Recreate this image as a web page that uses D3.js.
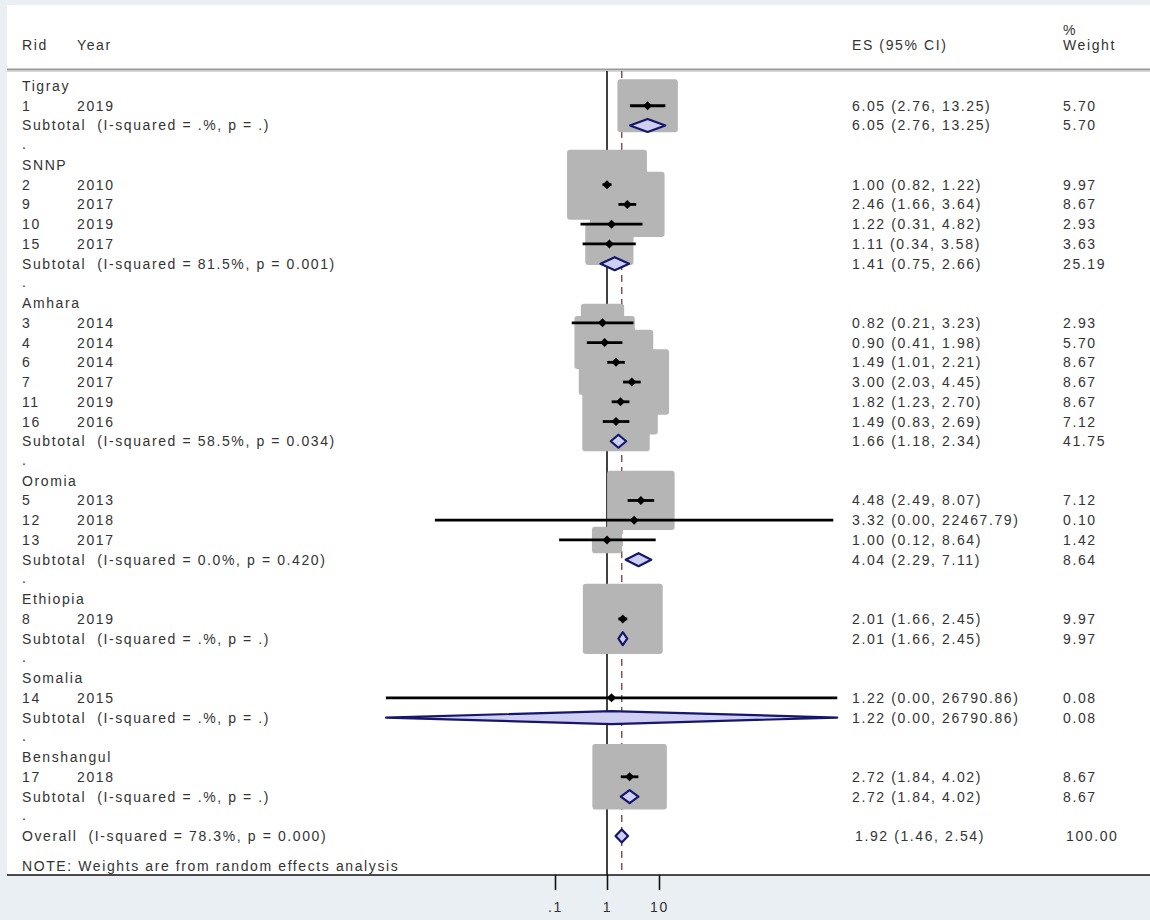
<!DOCTYPE html>
<html>
<head>
<meta charset="utf-8">
<script src="https://cdn.jsdelivr.net/npm/d3@7"></script>
<style>
  html, body { margin: 0; padding: 0; background: #e9eff3; }
  svg { display: block; }
  text { font-family: "Liberation Sans", Arial, sans-serif; font-size: 14px; fill: #333333; letter-spacing: 1.6px; white-space: pre; }
</style>
</head>
<body>
<svg id="chart" width="1150" height="920"></svg>
<script>
// Regions (subgroups) in display order
const regions = ["Tigray", "SNNP", "Amhara", "Oromia", "Ethiopia", "Somalia", "Benshangul"];

// Individual studies
const studyRid    = [1, 2, 9, 10, 15, 3, 4, 6, 7, 11, 16, 5, 12, 13, 8, 14, 17];
const studyYear   = [2019, 2010, 2017, 2019, 2017, 2014, 2014, 2014, 2017, 2019, 2016, 2013, 2018, 2017, 2019, 2015, 2018];
const studyRegion = ["Tigray", "SNNP", "SNNP", "SNNP", "SNNP", "Amhara", "Amhara", "Amhara", "Amhara", "Amhara", "Amhara",
                     "Oromia", "Oromia", "Oromia", "Ethiopia", "Somalia", "Benshangul"];
const studyES     = [6.05, 1.00, 2.46, 1.22, 1.11, 0.82, 0.90, 1.49, 3.00, 1.82, 1.49, 4.48, 3.32, 1.00, 2.01, 1.22, 2.72];
const studyLo     = [2.76, 0.82, 1.66, 0.31, 0.34, 0.21, 0.41, 1.01, 2.03, 1.23, 0.83, 2.49, 0.00049, 0.12, 1.66, 0.000056, 1.84];
const studyHi     = [13.25, 1.22, 3.64, 4.82, 3.58, 3.23, 1.98, 2.21, 4.45, 2.70, 2.69, 8.07, 22467.79, 8.64, 2.45, 26790.86, 4.02];
const studyWeight = [5.70, 9.97, 8.67, 2.93, 3.63, 2.93, 5.70, 8.67, 8.67, 8.67, 7.12, 7.12, 0.10, 1.42, 9.97, 0.08, 8.67];

// Pooled estimates per region (same order as regions)
const subES     = [6.05, 1.41, 1.66, 4.04, 2.01, 1.22, 2.72];
const subLo     = [2.76, 0.75, 1.18, 2.29, 1.66, 0.000056, 1.84];
const subHi     = [13.25, 2.66, 2.34, 7.11, 2.45, 26790.86, 4.02];
const subWeight = [5.70, 25.19, 41.75, 8.64, 9.97, 0.08, 8.67];
const subI2     = [".", "81.5", "58.5", "0.0", ".", ".", "."];
const subP      = [".", "0.001", "0.034", "0.420", ".", ".", "."];

// Overall pooled estimate: ES, lower, upper, weight
const overallValues = [1.92, 1.46, 2.54, 100.00];
const overallI2 = "78.3";
const overallP = "0.000";

// Axis ticks
const tickValues = [0.1, 1, 10];
const tickLabels = [".1", "1", "10"];

const svg = d3.select("#chart");
const W = 1150;

// Panel background
svg.append("rect").attr("x", 7).attr("y", 5).attr("width", W - 7).attr("height", 870).attr("fill", "#ffffff");

// Build the row list
const rows = [];
regions.forEach((r, gi) => {
  rows.push({ type: "head", label: r });
  studyRid.forEach((rid, i) => {
    if (studyRegion[i] === r) {
      rows.push({ type: "study", rid, year: studyYear[i], es: studyES[i], lo: studyLo[i], hi: studyHi[i], w: studyWeight[i] });
    }
  });
  rows.push({ type: "sub", label: `Subtotal  (I-squared = ${subI2[gi]}%, p = ${subP[gi]})`,
              es: subES[gi], lo: subLo[gi], hi: subHi[gi], w: subWeight[gi] });
  rows.push({ type: "gap" });
});
rows.push({ type: "overall", label: `Overall  (I-squared = ${overallI2}%, p = ${overallP})`,
            es: overallValues[0], lo: overallValues[1], hi: overallValues[2], w: overallValues[3] });

const y = d3.scaleLinear().domain([0, rows.length - 1]).range([86, 836]);
const x = d3.scaleLog().domain([0.1, 10]).range([555, 659]);

const axisY = 875;
const topY = 71;

// Header
const hdr = svg.append("g");
hdr.append("text").attr("x", 22).attr("y", 50).text("Rid");
hdr.append("text").attr("x", 77).attr("y", 50).text("Year");
hdr.append("text").attr("x", 852).attr("y", 50).text("ES (95% CI)");
hdr.append("text").attr("x", 1063).attr("y", 35).text("%");
hdr.append("text").attr("x", 1063).attr("y", 50).text("Weight");
svg.append("line").attr("x1", 7).attr("x2", W).attr("y1", 69.5).attr("y2", 69.5).attr("stroke", "#9a9a9a").attr("stroke-width", 2);
svg.append("line").attr("x1", 7).attr("x2", W).attr("y1", 71.5).attr("y2", 71.5).attr("stroke", "#d6d6d6").attr("stroke-width", 1);

// Reference lines: null effect and overall estimate
svg.append("line").attr("x1", x(1)).attr("x2", x(1)).attr("y1", topY).attr("y2", axisY)
  .attr("stroke", "#111").attr("stroke-width", 1.6);
svg.append("line").attr("x1", x(overallValues[0])).attr("x2", x(overallValues[0])).attr("y1", topY).attr("y2", axisY)
  .attr("stroke", "#7d4b4b").attr("stroke-width", 1.4).attr("stroke-dasharray", "7,5");

// Weight boxes
const studies = rows.map((r, i) => ({ ...r, i })).filter(r => r.type === "study");
svg.append("g").selectAll("rect").data(studies).join("rect")
  .attr("x", d => x(d.es) - 12.65 * Math.sqrt(d.w))
  .attr("y", d => y(d.i) - 11.1 * Math.sqrt(d.w))
  .attr("width", d => 25.3 * Math.sqrt(d.w))
  .attr("height", d => 22.2 * Math.sqrt(d.w))
  .attr("rx", 3)
  .attr("fill", "#b5b5b5");

// Confidence intervals and point estimates
const ci = svg.append("g");
ci.selectAll("line").data(studies).join("line")
  .attr("x1", d => x(d.lo)).attr("x2", d => x(d.hi))
  .attr("y1", d => y(d.i)).attr("y2", d => y(d.i))
  .attr("stroke", "#000").attr("stroke-width", 2.8);
ci.selectAll("path").data(studies).join("path")
  .attr("d", d => {
    const cx = x(d.es), cy = y(d.i), s = 4.5;
    return `M${cx - s},${cy}L${cx},${cy - s}L${cx + s},${cy}L${cx},${cy + s}Z`;
  })
  .attr("fill", "#000");

// Pooled diamonds
const pooled = rows.map((r, i) => ({ ...r, i })).filter(r => r.type === "sub" || r.type === "overall");
svg.append("g").selectAll("path").data(pooled).join("path")
  .attr("d", d => {
    const cy = y(d.i), h = 6.5;
    return `M${x(d.lo)},${cy}L${x(d.es)},${cy - h}L${x(d.hi)},${cy}L${x(d.es)},${cy + h}Z`;
  })
  .attr("fill", "#cfcff4").attr("stroke", "#16166a").attr("stroke-width", 2.2)
  .attr("stroke-linejoin", "round");

// Row text
const fmt = d3.format(".2f");
const txt = svg.append("g");
rows.forEach((r, i) => {
  const by = y(i) + 5;
  if (r.type === "head") {
    txt.append("text").attr("x", 22).attr("y", by).text(r.label);
  } else if (r.type === "gap") {
    txt.append("text").attr("x", 22).attr("y", by - 1).text(".");
  } else if (r.type === "study") {
    txt.append("text").attr("x", 22).attr("y", by).text(r.rid);
    txt.append("text").attr("x", 77).attr("y", by).text(r.year);
  } else {
    txt.append("text").attr("x", 22).attr("y", by).text(r.label);
  }
  if (r.type === "study" || r.type === "sub" || r.type === "overall") {
    const dx = r.type === "overall" ? 3 : 0;
    txt.append("text").attr("x", 852 + dx).attr("y", by)
      .text(`${fmt(r.es)} (${fmt(r.lo)}, ${fmt(r.hi)})`);
    txt.append("text").attr("x", 1063 + dx).attr("y", by).text(fmt(r.w));
  }
});
txt.append("text").attr("x", 22).attr("y", 871).text("NOTE: Weights are from random effects analysis");

// Bottom axis
svg.append("line").attr("x1", 7).attr("x2", W).attr("y1", axisY).attr("y2", axisY)
  .attr("stroke", "#111").attr("stroke-width", 1.6);
const axis = svg.append("g").attr("transform", `translate(0,${axisY})`)
  .call(d3.axisBottom(x).tickValues(tickValues).tickSize(15)
    .tickFormat((d, i) => tickLabels[i]));
axis.select(".domain").remove();
axis.selectAll(".tick line").attr("stroke", "#111").attr("stroke-width", 1.6);
axis.selectAll(".tick text").attr("dy", 0).attr("y", 37)
  .style("font-family", "'Liberation Sans', Arial, sans-serif").style("font-size", "14px").attr("fill", "#333333");
</script>
</body>
</html>
